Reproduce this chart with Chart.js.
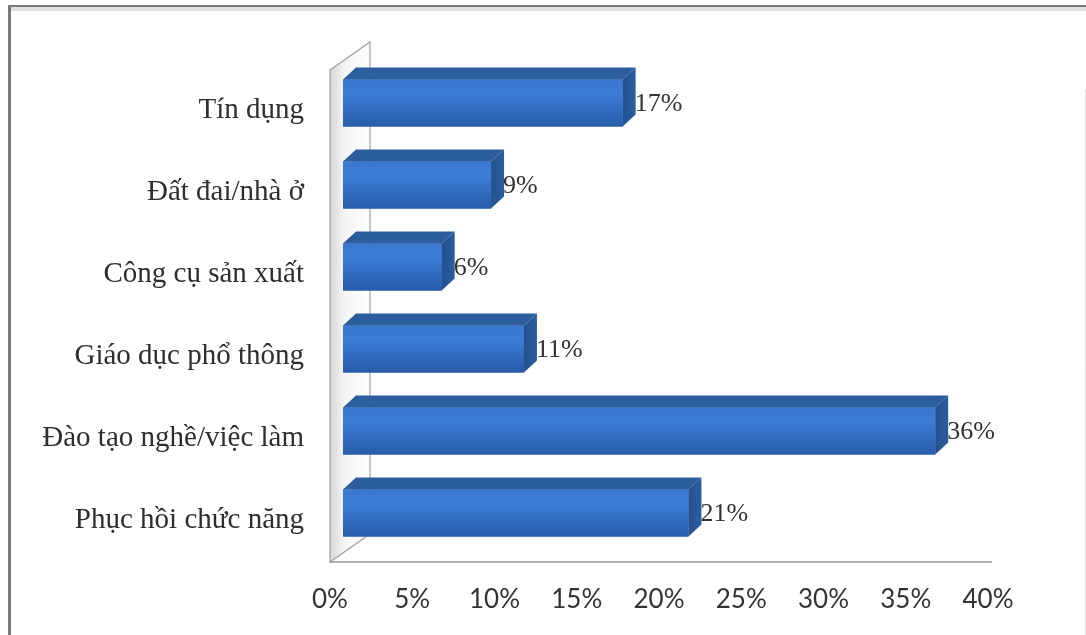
<!DOCTYPE html>
<html lang="vi">
<head>
    <meta charset="UTF-8">
    <title>Nhu cầu hỗ trợ</title>
    <script src="https://cdn.jsdelivr.net/npm/chart.js"></script>
    <style>
        body {
            margin: 0;
            background-color: #ffffff;
        }
        #wrap {
            width: 1086px;
            height: 635px;
        }
    </style>
</head>
<body>
    <div id="wrap"><canvas id="needsChart" width="1086" height="635"></canvas></div>

    <script>
        const categories = ['Tín dụng', 'Đất đai/nhà ở', 'Công cụ sản xuất', 'Giáo dục phổ thông', 'Đào tạo nghề/việc làm', 'Phục hồi chức năng'];
        const shares = [17, 9, 6, 11, 36, 21];
        const axisMin = 0;
        const axisMax = 40;
        const axisStep = 5;

        const DEPTH_X = 13;   // 3D offset of bar top/side
        const DEPTH_Y = 12;
        const SERIF = '"Liberation Serif", "Times New Roman", serif';

        // frame, side wall and floor behind the bars
        const backdrop = {
            id: 'backdrop',
            beforeDraw(chart) {
                const c = chart.ctx;
                c.save();
                c.fillStyle = '#ffffff';
                c.fillRect(0, 0, chart.width, chart.height);
                c.strokeStyle = 'rgba(0,0,0,0.12)';
                c.lineWidth = 4;
                c.beginPath();
                c.moveTo(10, 9); c.lineTo(chart.width, 9);
                c.stroke();
                c.strokeStyle = '#7a7a7a';
                c.lineWidth = 2;
                c.beginPath();
                c.moveTo(8, 6); c.lineTo(chart.width, 6);
                c.stroke();
                c.lineWidth = 3;
                c.beginPath();
                c.moveTo(9.5, 5); c.lineTo(9.5, chart.height);
                c.stroke();
                c.strokeStyle = '#e4e4e4';
                c.lineWidth = 1;
                c.beginPath();
                c.moveTo(1085.5, 90); c.lineTo(1085.5, chart.height);
                c.stroke();
                c.restore();
            },
            beforeDatasetsDraw(chart) {
                const c = chart.ctx;
                const area = chart.chartArea;
                const x = chart.scales.x;
                const fx = x.getPixelForValue(axisMin) - DEPTH_X;
                const bx = fx + 40;
                const ft = area.top + 8, fb = area.bottom + 8;
                const bt = ft - 28, bb = fb - 28;
                c.save();
                const g = c.createLinearGradient(fx, 0, bx, 0);
                g.addColorStop(0, '#d6d6d6');
                g.addColorStop(0.35, '#f4f4f4');
                g.addColorStop(1, '#ffffff');
                c.fillStyle = g;
                c.beginPath();
                c.moveTo(fx, ft); c.lineTo(bx, bt); c.lineTo(bx, bb); c.lineTo(fx, fb);
                c.closePath();
                c.fill();
                c.strokeStyle = '#a0a0a0';
                c.lineWidth = 1.2;
                c.stroke();
                // floor edge
                c.strokeStyle = '#9a9a9a';
                c.lineWidth = 1.5;
                c.beginPath();
                c.moveTo(fx, fb);
                c.lineTo(x.getPixelForValue(axisMax) - 9, fb);
                c.stroke();
                c.restore();
            },
            afterDatasetsDraw(chart) {
                const c = chart.ctx;
                const meta = chart.getDatasetMeta(0);
                c.save();
                meta.data.forEach((bar, i) => {
                    const p = bar.getProps(['x', 'y', 'base', 'height'], true);
                    const left = p.base, right = p.x;
                    const top = p.y - p.height / 2, bottom = p.y + p.height / 2;

                    // front face shading
                    const fg = c.createLinearGradient(0, top, 0, bottom);
                    fg.addColorStop(0, '#3a78cf');
                    fg.addColorStop(0.3, '#3b7dd6');
                    fg.addColorStop(0.8, '#2d64b6');
                    fg.addColorStop(1, '#295ca9');
                    c.fillStyle = fg;
                    c.fillRect(left, top, right - left, bottom - top);

                    // top face
                    c.fillStyle = '#2c5d9d';
                    c.beginPath();
                    c.moveTo(left, top);
                    c.lineTo(left + DEPTH_X, top - DEPTH_Y);
                    c.lineTo(right + DEPTH_X, top - DEPTH_Y);
                    c.lineTo(right, top);
                    c.closePath();
                    c.fill();

                    // side face
                    const sg = c.createLinearGradient(right, 0, right + DEPTH_X, 0);
                    sg.addColorStop(0, '#23508f');
                    sg.addColorStop(1, '#2b5e9f');
                    c.fillStyle = sg;
                    c.beginPath();
                    c.moveTo(right, top);
                    c.lineTo(right + DEPTH_X, top - DEPTH_Y);
                    c.lineTo(right + DEPTH_X, bottom - DEPTH_Y);
                    c.lineTo(right, bottom);
                    c.closePath();
                    c.fill();

                    // value label
                    c.fillStyle = '#333333';
                    c.font = '26px ' + SERIF;
                    c.textAlign = 'left';
                    c.textBaseline = 'middle';
                    c.fillText(shares[i] + '%', right + DEPTH_X - 1, p.y + 1);
                });
                c.restore();
            }
        };

        const ctx = document.getElementById('needsChart').getContext('2d');
        new Chart(ctx, {
            type: 'bar',
            data: {
                labels: categories,
                datasets: [{
                    data: shares,
                    backgroundColor: '#3470c4',
                    borderWidth: 0,
                    categoryPercentage: 1,
                    barPercentage: 0.575
                }]
            },
            options: {
                indexAxis: 'y',
                responsive: false,
                animation: false,
                devicePixelRatio: 1,
                layout: {
                    padding: { top: 62, right: 85, bottom: 20, left: 0 }
                },
                plugins: {
                    legend: { display: false },
                    tooltip: { enabled: false }
                },
                scales: {
                    x: {
                        min: axisMin,
                        max: axisMax,
                        grid: { display: false, drawTicks: false },
                        border: { display: false },
                        afterFit: scale => { scale.height = 61; },
                        ticks: {
                            stepSize: axisStep,
                            padding: 30,
                            labelOffset: -13,
                            maxRotation: 0,
                            color: '#333333',
                            font: { family: 'Lato', size: 26 },
                            callback: v => v + '%'
                        }
                    },
                    y: {
                        grid: { display: false, drawTicks: false },
                        border: { display: false },
                        afterFit: scale => { scale.width = 343; },
                        ticks: {
                            padding: 39,
                            labelOffset: 7,
                            color: '#2e2e2e',
                            font: { family: 'Liberation Serif', size: 29 }
                        }
                    }
                }
            },
            plugins: [backdrop]
        });
    </script>
</body>
</html>
